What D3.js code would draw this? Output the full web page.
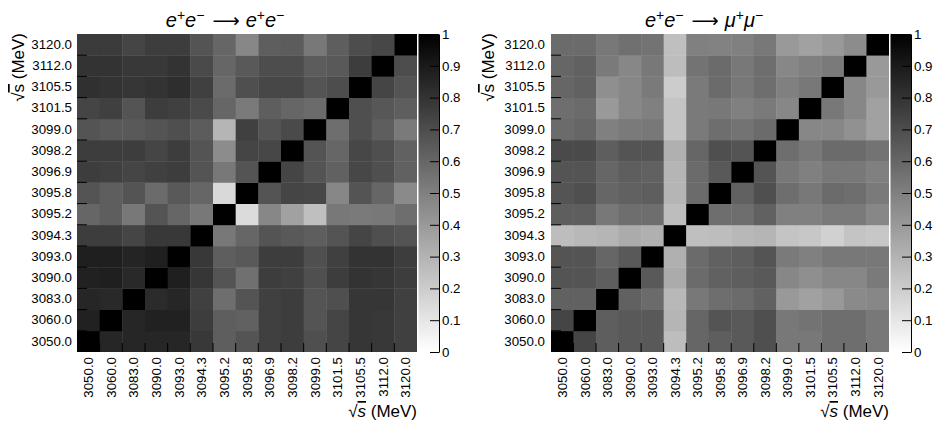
<!DOCTYPE html>
<html>
<head>
<meta charset="utf-8">
<script src="https://cdn.jsdelivr.net/npm/d3@7"></script>
<style>
  body { margin: 0; background: #fff; }
  svg text { font-family: "Liberation Sans", Arial, Helvetica, sans-serif; fill: #000; }
</style>
</head>
<body>
<div id="chart"></div>
<script>
// bin labels, same order on both axes (bottom -> top, left -> right)
const energies = ["3050.0", "3060.0", "3083.0", "3090.0", "3093.0", "3094.3", "3095.2", "3095.8",
                  "3096.9", "3098.2", "3099.0", "3101.5", "3105.5", "3112.0", "3120.0"];

// e+e- -> e+e- correlation, one row per y bin (3050.0 first), columns follow energies
const eeRows = [
  [1.00, 0.85, 0.85, 0.85, 0.85, 0.78, 0.63, 0.67, 0.75, 0.76, 0.69, 0.73, 0.79, 0.78, 0.75],
  [0.87, 1.00, 0.85, 0.87, 0.87, 0.76, 0.63, 0.62, 0.75, 0.76, 0.67, 0.73, 0.79, 0.78, 0.75],
  [0.85, 0.84, 1.00, 0.83, 0.85, 0.75, 0.57, 0.67, 0.75, 0.76, 0.67, 0.69, 0.79, 0.79, 0.75],
  [0.87, 0.88, 0.84, 1.00, 0.88, 0.79, 0.67, 0.56, 0.76, 0.75, 0.69, 0.76, 0.80, 0.79, 0.76],
  [0.88, 0.88, 0.86, 0.88, 1.00, 0.78, 0.63, 0.65, 0.76, 0.76, 0.69, 0.75, 0.80, 0.80, 0.76],
  [0.76, 0.76, 0.73, 0.78, 0.78, 1.00, 0.53, 0.60, 0.67, 0.65, 0.63, 0.67, 0.73, 0.69, 0.67],
  [0.60, 0.63, 0.53, 0.67, 0.60, 0.53, 1.00, 0.14, 0.47, 0.37, 0.25, 0.53, 0.52, 0.53, 0.57],
  [0.67, 0.63, 0.67, 0.58, 0.65, 0.60, 0.15, 1.00, 0.67, 0.73, 0.72, 0.47, 0.67, 0.60, 0.46],
  [0.76, 0.75, 0.73, 0.75, 0.76, 0.67, 0.53, 0.67, 1.00, 0.73, 0.67, 0.62, 0.72, 0.69, 0.62],
  [0.76, 0.76, 0.76, 0.73, 0.76, 0.67, 0.45, 0.73, 0.72, 1.00, 0.67, 0.60, 0.72, 0.69, 0.62],
  [0.67, 0.65, 0.65, 0.67, 0.69, 0.64, 0.29, 0.75, 0.67, 0.71, 1.00, 0.57, 0.69, 0.63, 0.52],
  [0.73, 0.75, 0.67, 0.76, 0.75, 0.71, 0.60, 0.52, 0.63, 0.60, 0.58, 1.00, 0.69, 0.66, 0.63],
  [0.81, 0.80, 0.79, 0.80, 0.82, 0.75, 0.58, 0.69, 0.72, 0.72, 0.67, 0.70, 1.00, 0.73, 0.67],
  [0.80, 0.80, 0.78, 0.78, 0.80, 0.71, 0.60, 0.65, 0.70, 0.70, 0.64, 0.65, 0.76, 1.00, 0.70],
  [0.77, 0.77, 0.73, 0.76, 0.76, 0.67, 0.60, 0.47, 0.63, 0.64, 0.53, 0.63, 0.70, 0.72, 1.00]
];

// e+e- -> mu+mu- correlation, same layout
const mumuRows = [
  [1.00, 0.73, 0.63, 0.65, 0.65, 0.26, 0.60, 0.63, 0.65, 0.69, 0.53, 0.53, 0.57, 0.57, 0.53],
  [0.73, 1.00, 0.63, 0.65, 0.65, 0.29, 0.60, 0.67, 0.65, 0.69, 0.53, 0.55, 0.57, 0.57, 0.53],
  [0.62, 0.62, 1.00, 0.62, 0.58, 0.28, 0.53, 0.57, 0.58, 0.62, 0.40, 0.37, 0.40, 0.46, 0.47],
  [0.67, 0.67, 0.63, 1.00, 0.65, 0.33, 0.58, 0.62, 0.63, 0.65, 0.47, 0.44, 0.47, 0.47, 0.52],
  [0.67, 0.67, 0.60, 0.65, 1.00, 0.31, 0.58, 0.62, 0.63, 0.67, 0.52, 0.50, 0.53, 0.53, 0.53],
  [0.26, 0.28, 0.29, 0.33, 0.31, 1.00, 0.25, 0.26, 0.28, 0.29, 0.23, 0.22, 0.18, 0.23, 0.22],
  [0.63, 0.63, 0.53, 0.57, 0.57, 0.26, 1.00, 0.57, 0.57, 0.62, 0.50, 0.50, 0.52, 0.52, 0.47],
  [0.67, 0.69, 0.60, 0.62, 0.63, 0.29, 0.58, 1.00, 0.62, 0.69, 0.57, 0.53, 0.58, 0.57, 0.52],
  [0.67, 0.67, 0.60, 0.63, 0.62, 0.29, 0.58, 0.65, 1.00, 0.67, 0.53, 0.50, 0.53, 0.53, 0.50],
  [0.71, 0.71, 0.63, 0.67, 0.67, 0.31, 0.60, 0.69, 0.67, 1.00, 0.57, 0.53, 0.58, 0.58, 0.55],
  [0.58, 0.60, 0.50, 0.52, 0.53, 0.23, 0.52, 0.57, 0.55, 0.58, 1.00, 0.47, 0.47, 0.43, 0.37],
  [0.57, 0.58, 0.40, 0.47, 0.50, 0.23, 0.52, 0.53, 0.50, 0.52, 0.47, 1.00, 0.53, 0.47, 0.37],
  [0.60, 0.62, 0.44, 0.47, 0.52, 0.20, 0.52, 0.58, 0.53, 0.57, 0.50, 0.53, 1.00, 0.47, 0.40],
  [0.60, 0.62, 0.52, 0.47, 0.53, 0.26, 0.55, 0.58, 0.53, 0.57, 0.47, 0.50, 0.52, 1.00, 0.40],
  [0.58, 0.58, 0.53, 0.56, 0.55, 0.25, 0.50, 0.49, 0.50, 0.53, 0.40, 0.37, 0.40, 0.45, 1.00]
];

const colorbarTicks = [0, 0.1, 0.2, 0.3, 0.4, 0.5, 0.6, 0.7, 0.8, 0.9, 1];

const width = 933, height = 424;
const svg = d3.select("#chart").append("svg")
    .attr("width", width)
    .attr("height", height);

// white at 0, black at 1
const color = d3.scaleLinear().domain([0, 1]).range(["#ffffff", "#000000"]);

const grad = svg.append("defs").append("linearGradient")
    .attr("id", "greys")
    .attr("x1", 0).attr("y1", 1).attr("x2", 0).attr("y2", 0);
grad.selectAll("stop")
    .data(colorbarTicks)
    .enter().append("stop")
    .attr("offset", d => d)
    .attr("stop-color", d => color(d));

// title made of pieces: plain, italic, superscript
function drawTitle(cx, pieces) {
    const t = svg.append("text")
        .attr("x", cx)
        .attr("y", 27)
        .attr("text-anchor", "middle")
        .attr("font-size", 20);
    let shift = 0;
    pieces.forEach(p => {
        const target = p.sup ? -7.5 : 0;
        const span = t.append("tspan")
            .attr("dy", target - shift)
            .text(p.text);
        shift = target;
        if (p.sup) span.attr("font-size", 14);
        if (p.it) span.attr("font-style", "italic");
        if (p.arrow) span.attr("font-family", "DejaVu Sans").attr("font-size", 19);
        if (p.dx) span.attr("dx", p.dx);
    });
}

function sqrtTitle(g, italic) {
    g.append("tspan").text("√");
    g.append("tspan")
        .attr("font-style", italic ? "italic" : "normal")
        .attr("text-decoration", "overline")
        .text("s");
    g.append("tspan").text(" (MeV)");
}

function drawPanel(p) {
    const x = d3.scaleBand().domain(energies).range([p.left, p.right]);
    const y = d3.scaleBand().domain(energies).range([p.bottom, p.top]);
    const g = svg.append("g");

    const cells = [];
    p.rows.forEach((row, i) => {
        row.forEach((v, j) => cells.push({ col: energies[j], row: energies[i], v: v }));
    });

    g.selectAll("rect.cell")
        .data(cells)
        .enter().append("rect")
        .attr("class", "cell")
        .attr("x", d => x(d.col))
        .attr("y", d => y(d.row))
        .attr("width", d => d.col === energies[energies.length - 1] ? x.bandwidth() : x.bandwidth() + 0.4)
        .attr("height", d => d.row === energies[0] ? y.bandwidth() : y.bandwidth() + 0.4)
        .attr("fill", d => color(d.v));

    // ticks sit on the bin edges
    const edges = d3.range(1, energies.length);
    const xEdge = d3.scaleLinear().domain([0, energies.length]).range([p.left, p.right]);
    const yEdge = d3.scaleLinear().domain([0, energies.length]).range([p.bottom, p.top]);

    g.selectAll("line.xtick")
        .data(edges)
        .enter().append("line")
        .attr("x1", d => xEdge(d)).attr("x2", d => xEdge(d))
        .attr("y1", p.bottom).attr("y2", p.bottom - 9)
        .attr("stroke", "#000");

    g.selectAll("line.ytick")
        .data(edges)
        .enter().append("line")
        .attr("y1", d => yEdge(d)).attr("y2", d => yEdge(d))
        .attr("x1", p.left).attr("x2", p.left + 10)
        .attr("stroke", "#000");

    // tick labels
    g.append("g")
        .attr("transform", `translate(${p.left},0)`)
        .call(d3.axisLeft(y).tickSize(0).tickPadding(p.yPad))
        .attr("font-size", 13.3)
        .call(a => a.select(".domain").remove());

    g.append("g")
        .attr("transform", `translate(0,${p.bottom})`)
        .call(d3.axisBottom(x).tickSize(0))
        .attr("font-size", 13.3)
        .call(a => a.select(".domain").remove())
        .selectAll("text")
        .attr("transform", "rotate(-90)")
        .attr("text-anchor", "end")
        .attr("x", -5)
        .attr("y", 0)
        .attr("dy", "0.36em");

    // axis titles
    const xt = g.append("text")
        .attr("x", p.right)
        .attr("y", 417)
        .attr("text-anchor", "end")
        .attr("font-size", 17);
    sqrtTitle(xt, true);

    const yt = g.append("text")
        .attr("transform", `translate(${p.yTitleX},${p.top - 1}) rotate(-90)`)
        .attr("text-anchor", "end")
        .attr("font-size", 17);
    sqrtTitle(yt, false);

    // colour bar
    const cbX = p.right + 1.5, cbW = 20.5;
    g.append("rect")
        .attr("x", cbX)
        .attr("y", p.top)
        .attr("width", cbW)
        .attr("height", p.bottom - p.top)
        .attr("fill", "url(#greys)");

    const z = d3.scaleLinear().domain([0, 1]).range([p.bottom, p.top]);
    g.append("g")
        .attr("transform", `translate(${cbX + cbW},0)`)
        .call(d3.axisRight(z)
            .tickValues(colorbarTicks)
            .tickSizeInner(-9)
            .tickSizeOuter(0)
            .tickPadding(3)
            .tickFormat(d3.format("~g")))
        .attr("font-size", 13.3);
}

drawPanel({ rows: eeRows, left: 77, right: 417, top: 34, bottom: 352, yPad: 5, yTitleX: 24 });
drawPanel({ rows: mumuRows, left: 551, right: 889, top: 34, bottom: 352, yPad: 6, yTitleX: 494 });

drawTitle(225, [
    { text: "e", it: true }, { text: "+", sup: true }, { text: "e", it: true }, { text: "−", sup: true },
    { text: "⟶", arrow: true, dx: 8 },
    { text: "e", it: true, dx: 6 }, { text: "+", sup: true }, { text: "e", it: true }, { text: "−", sup: true }
]);
drawTitle(704, [
    { text: "e", it: true }, { text: "+", sup: true }, { text: "e", it: true }, { text: "−", sup: true },
    { text: "⟶", arrow: true, dx: 8 },
    { text: "μ", it: true, dx: 6 }, { text: "+", sup: true }, { text: "μ", it: true }, { text: "−", sup: true }
]);
</script>
</body>
</html>
